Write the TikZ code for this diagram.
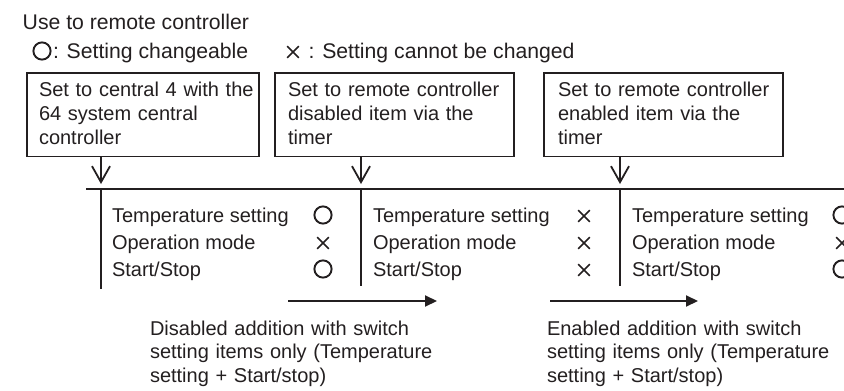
\documentclass[tikz,border=0pt]{standalone}
\usepackage{fontspec}
\setmainfont{Liberation Sans}
\usetikzlibrary{arrows.meta,shapes.misc,calc}
\definecolor{ink}{RGB}{35,31,32}
\begin{document}
\begin{tikzpicture}[x=0.5pt,y=-0.5pt,
  every node/.style={text=ink, inner sep=0pt, outer sep=0pt},
  hdr/.style={font=\fontsize{10.6pt}{12pt}\selectfont, anchor=base west},
  txt/.style={font=\fontsize{10pt}{12pt}\selectfont, anchor=base west},
  boxtxt/.style={font=\fontsize{10pt}{12pt}\selectfont, anchor=base west, align=left, text width=112pt},
  note/.style={font=\fontsize{10pt}{11.75pt}\selectfont, anchor=base west, align=left, text width=150pt},
  stepbox/.style={draw=ink, line width=0.75pt, anchor=north west, minimum height=41.75pt},
  rule/.style={draw=ink, line width=0.8pt},
  down/.style={draw=ink, line width=0.9pt, -{Straight Barb[length=8pt,width=9pt,line width=0.9pt]}, shorten >=2.5pt},
  fwd/.style={draw=ink, line width=1pt, -{Triangle[length=6pt,width=5.5pt]}},
  okmark/.style={draw=ink, circle, line width=0.95pt, minimum size=8.6pt},
  nomark/.style={draw=ink, cross out, line width=0.8pt, minimum size=5.8pt},
]
\useasboundingbox (0,0) rectangle (844,390);

% header
\node[hdr] (title) at (22.7,29.3) {Use to remote controller};
\node[okmark] (hc) at (42,51) {};
\node[hdr] (hct) at (53,59) {: Setting changeable};
\node[nomark] (hx) at (293,52) {};
\node[hdr] (hxt) at (305,59) {\,: Setting cannot be changed};

% boxes
\node[stepbox, minimum width=116pt] (b1) at (27,73) {};
\node[boxtxt] (t1) at ($(b1.north west)+(12,24)$) {Set to central 4 with the\\64 system central\\controller};
\node[stepbox, minimum width=119.5pt] (b2) at (275,73) {};
\node[boxtxt] (t2) at ($(b2.north west)+(13,24)$) {Set to remote controller\\disabled item via the\\timer};
\node[stepbox, minimum width=119.5pt] (b3) at (544,73) {};
\node[boxtxt] (t3) at ($(b3.north west)+(14,24)$) {Set to remote controller\\enabled item via the\\timer};

% time line and separators
\coordinate (hl) at (86,189);
\coordinate (hr) at (850,189);
\draw[rule] (hl) -- (hr);
\coordinate (s1) at (101,189);
\coordinate (s2) at (361,189);
\coordinate (s3) at (620,189);
\coordinate (e1) at (101,289);
\coordinate (e2) at (361,286);
\coordinate (e3) at (620,286);
\draw[rule] (s1) -- (e1);
\draw[rule] (s2) -- (e2);
\draw[rule] (s3) -- (e3);
\draw[down] (b1.south -| s1) -- (s1);
\draw[down] (b2.south -| s2) -- (s2);
\draw[down] (b3.south -| s3) -- (s3);

% column 1
\node[txt] (r11) at (112,222) {Temperature setting};
\node[txt] (r12) at (112,249) {Operation mode};
\node[txt] (r13) at (112,276) {Start/Stop};
\node[okmark] (m11) at (323,215) {};
\node[nomark] (m12) at (323,243) {};
\node[okmark] (m13) at (323,269) {};
% column 2
\node[txt] (r21) at (373,222) {Temperature setting};
\node[txt] (r22) at (373,249) {Operation mode};
\node[txt] (r23) at (373,276) {Start/Stop};
\node[nomark] (m21) at (584,216) {};
\node[nomark] (m22) at (584,243) {};
\node[nomark] (m23) at (584,270) {};
% column 3
\node[txt] (r31) at (632,222) {Temperature setting};
\node[txt] (r32) at (632,249) {Operation mode};
\node[txt] (r33) at (632,276) {Start/Stop};
\node[okmark] (m31) at (842,215) {};
\node[nomark] (m32) at (842,243) {};
\node[okmark] (m33) at (842,269) {};

% transition arrows
\coordinate (a1s) at (288,301);
\coordinate (a1e) at (437,301);
\coordinate (a2s) at (550,301);
\coordinate (a2e) at (698,301);
\draw[fwd] (a1s) -- (a1e);
\draw[fwd] (a2s) -- (a2e);
\node[note] (n1) at (150,335) {Disabled addition with switch\\setting items only (Temperature\\setting + Start/stop)};
\node[note] (n2) at (547,335) {Enabled addition with switch\\setting items only (Temperature\\setting + Start/stop)};
\end{tikzpicture}
\end{document}
